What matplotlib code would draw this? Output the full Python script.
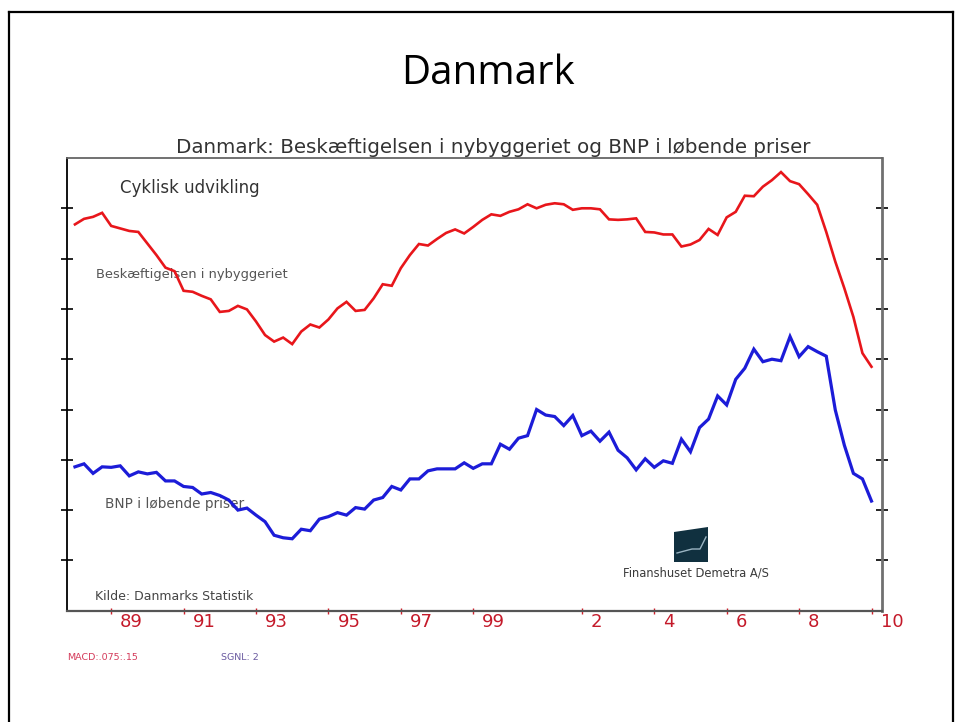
import matplotlib
matplotlib.use("Agg")
import matplotlib.pyplot as plt
import numpy as np
from matplotlib.lines import Line2D
from matplotlib.patches import Polygon
from matplotlib.transforms import ScaledTranslation

# ── Data (kvartalsvis, cyklisk komponent) ────────────────────────────────────
START_YEAR = 1988

beskaeftigelse = [
    7.68, 7.79, 7.83, 7.91, 7.65, 7.60, 7.55, 7.53, 7.30, 7.07,
    6.82, 6.75, 6.36, 6.34, 6.26, 6.19, 5.94, 5.96, 6.06, 5.99,
    5.75, 5.48, 5.35, 5.43, 5.30, 5.55, 5.69, 5.63, 5.79, 6.01,
    6.14, 5.96, 5.98, 6.21, 6.49, 6.46, 6.81, 7.07, 7.29, 7.26,
    7.39, 7.51, 7.58, 7.50, 7.63, 7.77, 7.88, 7.85, 7.93, 7.98,
    8.08, 8.00, 8.07, 8.10, 8.08, 7.97, 8.00, 8.00, 7.98, 7.78,
    7.77, 7.78, 7.80, 7.53, 7.52, 7.48, 7.48, 7.24, 7.28, 7.37,
    7.59, 7.47, 7.82, 7.93, 8.25, 8.24, 8.43, 8.56, 8.72, 8.54,
    8.48, 8.28, 8.07, 7.53, 6.94, 6.41, 5.84, 5.12, 4.85,
]

bnp = [
    2.86, 2.92, 2.73, 2.86, 2.85, 2.88, 2.68, 2.76, 2.72, 2.75,
    2.58, 2.58, 2.47, 2.45, 2.32, 2.35, 2.29, 2.20, 2.00, 2.04,
    1.90, 1.77, 1.50, 1.45, 1.43, 1.62, 1.59, 1.82, 1.87, 1.95,
    1.90, 2.05, 2.02, 2.20, 2.25, 2.47, 2.40, 2.62, 2.62, 2.78,
    2.82, 2.82, 2.82, 2.94, 2.83, 2.92, 2.92, 3.31, 3.21, 3.43,
    3.48, 4.00, 3.89, 3.86, 3.68, 3.88, 3.48, 3.57, 3.37, 3.55,
    3.19, 3.04, 2.80, 3.02, 2.85, 2.98, 2.93, 3.41, 3.16, 3.64,
    3.81, 4.27, 4.09, 4.60, 4.82, 5.20, 4.95, 5.00, 4.97, 5.45,
    5.05, 5.25, 5.15, 5.06, 3.99, 3.29, 2.73, 2.62, 2.18,
]

tick_years = [1989, 1991, 1993, 1995, 1997, 1999, 2002, 2004, 2006, 2008, 2010]
tick_labels = ["89", "91", "93", "95", "97", "99", "2", "4", "6", "8", "10"]

W, H = 955, 722


def fx(x):
    return x / W


def fy(y):
    return 1 - y / H


years = START_YEAR + np.arange(len(beskaeftigelse)) / 4.0

fig = plt.figure(figsize=(W / 100, H / 100), dpi=100, facecolor="white")

# ── Slide-ramme ──────────────────────────────────────────────────────────────
frame_kw = dict(color="black", lw=1.6, transform=fig.transFigure)
fig.add_artist(Line2D([fx(8.5), fx(8.5)], [fy(12), -0.05], **frame_kw))
fig.add_artist(Line2D([fx(8.5), fx(953)], [fy(12), fy(12)], **frame_kw))
fig.add_artist(Line2D([fx(953), fx(953)], [fy(12), -0.05], **frame_kw))

fig.text(fx(488), fy(84.3), "Danmark", ha="center", va="baseline",
         fontsize=29, family="Open Sans", color="black")

# ── Diagram ─────────────────────────────────────────────────────────────────
ax = fig.add_axes([fx(67), fy(610.7), (882 - 67) / W, (610.7 - 158) / H])
ax.set_facecolor("white")

ax.plot(years, beskaeftigelse, color="#e8161b", lw=1.9, zorder=3,
        solid_joinstyle="miter")
ax.plot(years, bnp, color="#1c1cd8", lw=2.3, zorder=3,
        solid_joinstyle="miter")

ax.set_xlim(1987.78, 2010.29)
ax.set_ylim(0, 9)

ax.set_yticks(range(1, 9))
ax.set_yticklabels([])
ax.tick_params(axis="y", direction="inout", length=8, width=1.2,
               left=True, right=True)
for t in ax.yaxis.get_major_ticks():
    t.tick1line.set_color("black")
    t.tick2line.set_color("#707070")

ax.set_xticks(tick_years)
ax.set_xticklabels(tick_labels, ha="left")
ax.tick_params(axis="x", direction="inout", length=5, width=1.0,
               color="#d0202c", labelcolor="#c41a2a", labelsize=13, pad=-1)
offset = ScaledTranslation(9 / 100, 0, fig.dpi_scale_trans)
for lab in ax.get_xticklabels():
    lab.set_transform(lab.get_transform() + offset)

ax.spines["left"].set_color("black")
ax.spines["left"].set_linewidth(1.3)
ax.spines["bottom"].set_color("#555555")
ax.spines["bottom"].set_linewidth(1.6)
ax.spines["top"].set_color("#666666")
ax.spines["top"].set_linewidth(1.3)
ax.spines["right"].set_color("#707070")
ax.spines["right"].set_linewidth(2.0)

txt_kw = dict(transform=fig.transFigure, va="baseline", zorder=2)
ax.text(fx(493.5), fy(152.7),
        "Danmark: Beskæftigelsen i nybyggeriet og BNP i løbende priser",
        ha="center", fontsize=14.3, color="#333333", **txt_kw)
ax.text(fx(120), fy(193.3), "Cyklisk udvikling", ha="left",
        fontsize=12, color="#333333", **txt_kw)
ax.text(fx(96), fy(278.3), "Beskæftigelsen i nybyggeriet", ha="left",
        fontsize=9.4, color="#555555", **txt_kw)
ax.text(fx(105), fy(508.3), "BNP i løbende priser", ha="left",
        fontsize=9.8, color="#555555", **txt_kw)
ax.text(fx(95), fy(600), "Kilde: Danmarks Statistik", ha="left",
        fontsize=9.0, color="#444444", **txt_kw)

# ── Logo ────────────────────────────────────────────────────────────────────
ax.add_artist(Polygon([[fx(674), fy(532)], [fx(708), fy(527)],
                       [fx(708), fy(562)], [fx(674), fy(562)]],
                      closed=True, transform=fig.transFigure,
                      facecolor="#10303f", edgecolor="none", zorder=2))
ax.add_artist(Line2D([fx(677), fx(692), fx(700), fx(706)],
                     [fy(553), fy(549), fy(549), fy(537)],
                     transform=fig.transFigure, color="#9ab4c2", lw=1.0,
                     zorder=2))
fig.text(fx(695.5), fy(577), "Finanshuset Demetra A/S", ha="center",
         va="baseline", fontsize=8.3, color="#3a3a3a",
         family=["Liberation Sans Narrow", "DejaVu Sans"])

# ── Fodnoter ────────────────────────────────────────────────────────────────
fig.text(fx(67), fy(660), "MACD:.075:.15", ha="left", va="baseline",
         fontsize=6.8, color="#d43a5a")
fig.text(fx(221), fy(660), "SGNL: 2", ha="left", va="baseline",
         fontsize=6.8, color="#6a5aa0")

fig.savefig("out.png", dpi=100, facecolor="white")
plt.close(fig)
